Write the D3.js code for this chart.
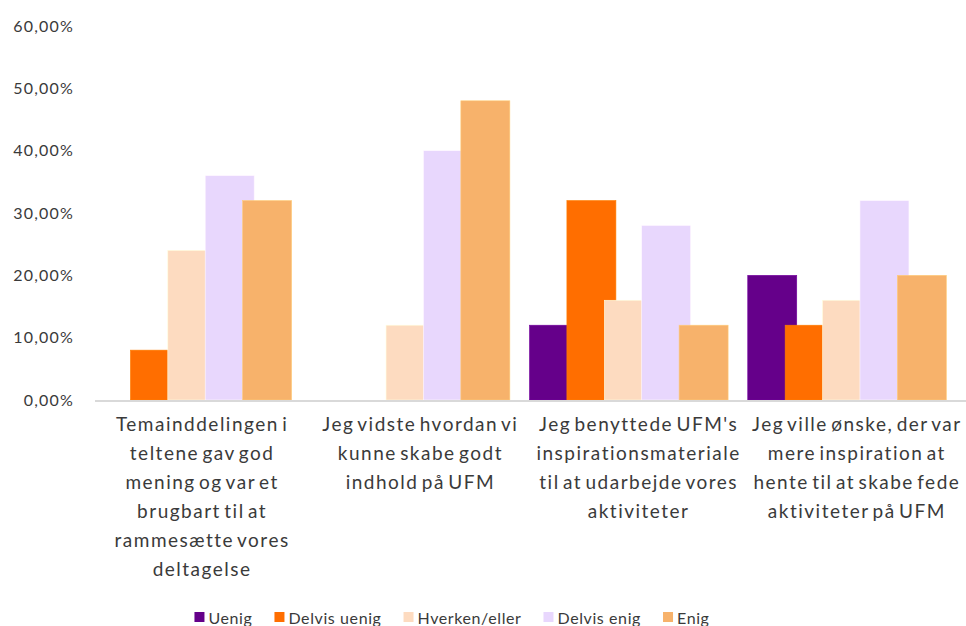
<!DOCTYPE html>
<html>
<head>
<meta charset="utf-8">
<script src="https://cdn.jsdelivr.net/npm/d3@7"></script>
<style>
  body { margin: 0; background: #fff; }
  text { font-family: Lato, "Noto Sans", sans-serif; fill: #3a3a3a; }
</style>
</head>
<body>
<div id="chart"></div>
<script>
// categories (line breaks as in the original labels)
var categories = [
  "Temainddelingen i\nteltene gav god\nmening og var et\nbrugbart til at\nrammesætte vores\ndeltagelse",
  "Jeg vidste hvordan vi\nkunne skabe godt\nindhold på UFM",
  "Jeg benyttede UFM's\ninspirationsmateriale\ntil at udarbejde vores\naktiviteter",
  "Jeg ville ønske, der var\nmere inspiration at\nhente til at skabe fede\naktiviteter på UFM"
];
var seriesNames = ["Uenig", "Delvis uenig", "Hverken/eller", "Delvis enig", "Enig"];
var seriesColors = ["#65008a", "#ff6e00", "#fddbc0", "#e8d7fd", "#f7b26b"];

// share per answer, one array per series (index = category)
var uenig       = [0.00, 0.00, 0.12, 0.20];
var delvisUenig = [0.08, 0.00, 0.32, 0.12];
var hverken     = [0.24, 0.12, 0.16, 0.16];
var delvisEnig  = [0.36, 0.40, 0.28, 0.32];
var enig        = [0.32, 0.48, 0.12, 0.20];
var seriesValues = [uenig, delvisUenig, hverken, delvisEnig, enig];

var yTicks = [0, 0.1, 0.2, 0.3, 0.4, 0.5, 0.6];

var W = 966, H = 626;
var svg = d3.select("#chart").append("svg").attr("width", W).attr("height", H);

var da = d3.formatLocale({decimal: ",", thousands: ".", grouping: [3], currency: ["", " kr"]});
var pct = da.format(".2%");

var x0 = d3.scaleBand().domain(d3.range(categories.length)).range([93, 966]);
var barStep = 37.4, barW = 49; // bars overlap like in the original
var y = d3.scaleLinear().domain([0, 0.6]).range([400, 26]);

// y tick labels
svg.append("g").selectAll("text")
  .data(yTicks).enter().append("text")
  .attr("x", 74)
  .attr("y", function(d){ return y(d); })
  .attr("dy", "0.35em")
  .attr("text-anchor", "end")
  .style("font-size", "16px")
  .style("letter-spacing", "1.2px")
  .text(function(d){ return pct(d); });

// bars, series after series so later ones sit on top
seriesValues.forEach(function(vals, s){
  svg.append("g").selectAll("rect")
    .data(vals).enter().append("rect")
    .attr("x", function(d, i){ return x0(i) + s*barStep; })
    .attr("y", function(d){ return y(d); })
    .attr("width", barW)
    .attr("height", function(d){ return y(0) - y(d); })
    .attr("fill", seriesColors[s])
    .attr("stroke", d3.color(seriesColors[s]).brighter(0.4))
    .attr("stroke-width", 0.6)
    .style("display", function(d){ return d > 0 ? null : "none"; });
});

// x axis line
svg.append("line")
  .attr("x1", 95).attr("x2", W)
  .attr("y1", y(0) + 1).attr("y2", y(0) + 1)
  .attr("stroke", "#d9d9d9").attr("stroke-width", 2);

// category labels
var lab = svg.append("g").selectAll("text")
  .data(categories).enter().append("text")
  .attr("text-anchor", "middle")
  .style("font-size", "19px")
  .style("letter-spacing", "1.5px")
  .style("word-spacing", "-3px");
lab.each(function(d, i){
  var t = d3.select(this);
  d.split("\n").forEach(function(line, k){
    t.append("tspan")
      .attr("x", x0(i) + x0.bandwidth()/2)
      .attr("y", 431 + k*29)
      .text(line);
  });
});

// legend
var leg = svg.append("g").attr("transform", "translate(0,618)");
var items = leg.selectAll("g").data(seriesNames).enter().append("g");
items.append("rect")
  .attr("y", -6).attr("width", 10).attr("height", 10)
  .attr("fill", function(d, i){ return seriesColors[i]; });
items.append("text")
  .attr("x", 14).attr("dy", "0.35em")
  .style("font-size", "16px")
  .style("letter-spacing", "0.6px")
  .text(function(d){ return d; });
var pos = 0;
items.each(function(){
  var g = d3.select(this);
  g.attr("transform", "translate(" + pos + ",0)");
  pos += this.getBBox().width + 22;
});
pos -= 22;
leg.attr("transform", "translate(" + (452 - pos/2) + ",618)");
</script>
</body>
</html>
